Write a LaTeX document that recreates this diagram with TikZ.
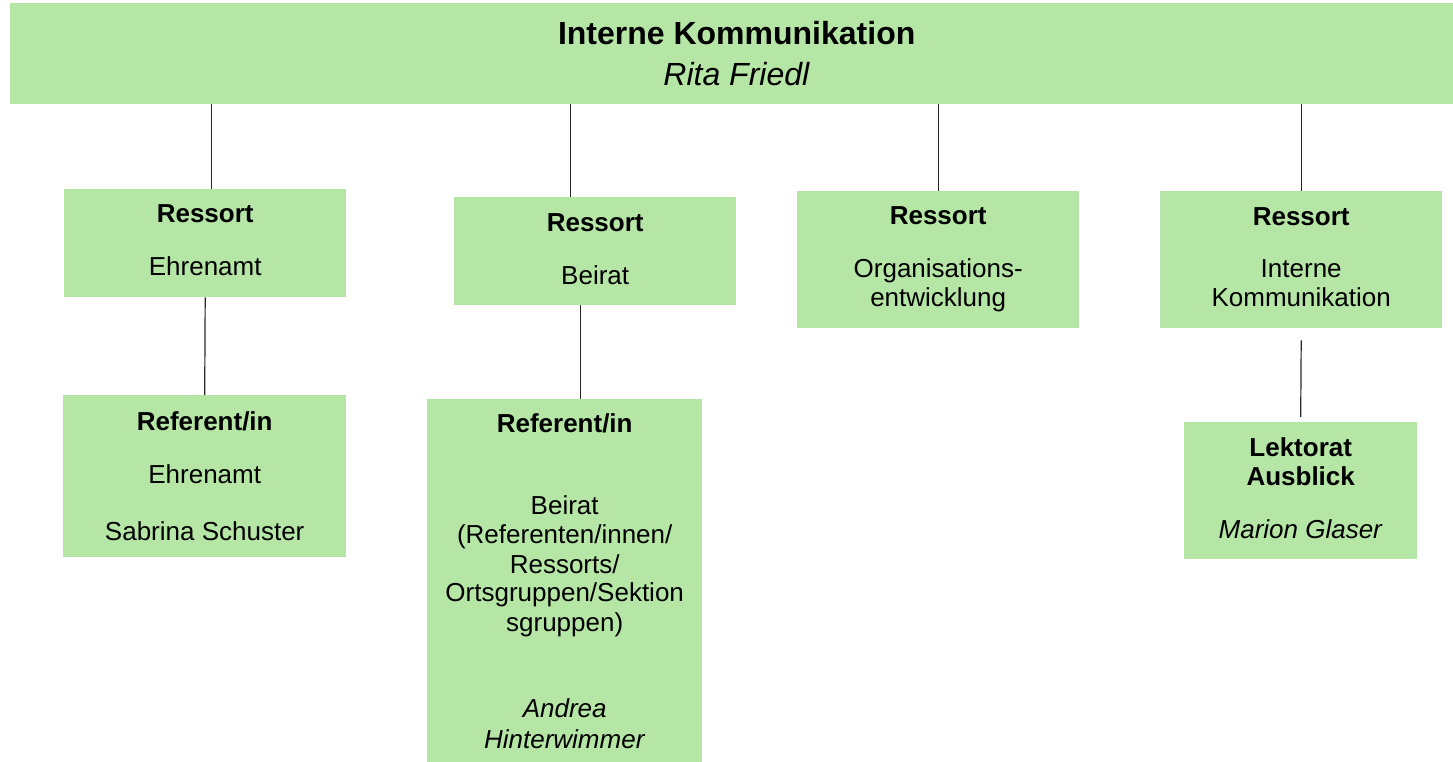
\documentclass[tikz,border=0pt]{standalone}
\usepackage{fontspec}
\setmainfont{Liberation Sans}
\definecolor{boxgreen}{RGB}{181,230,165}
\begin{document}
\begin{tikzpicture}[x=1pt,y=1pt,
  box/.style={fill=boxgreen, draw=none, inner sep=0pt, anchor=north west, align=center, font=\fontsize{26}{29}\selectfont},
  conn/.style={draw=black!85, line width=1.2pt}]
\useasboundingbox (0,0) rectangle (1453,-762);
\node[box, minimum width=1443, minimum height=101, font=\fontsize{32}{41}\selectfont] (top) at (10,-3) {\hspace*{10pt}\textbf{Interne Kommunikation}\\\hspace*{10pt}\textit{Rita Friedl}};
\node[box, minimum width=282, minimum height=108, text depth=6pt] (b1) at (64,-189) {\textbf{Ressort}\\[24pt]Ehrenamt};
\node[box, minimum width=283, minimum height=162] (b1b) at (63,-395) {\textbf{Referent/in}\\[24pt]Ehrenamt\\[28pt]Sabrina Schuster};
\node[box, minimum width=282, minimum height=108, text depth=4pt] (b2) at (454,-197) {\textbf{Ressort}\\[24pt]Beirat};
\node[box, minimum width=275, minimum height=363] (b2b) at (427,-399) {\textbf{Referent/in}\\[54pt]Beirat\\(Referenten/innen/\\Ressorts/\\Ortsgruppen/Sektion\\sgruppen)\\[57pt]\textit{Andrea}\\[2pt]\textit{Hinterwimmer}};
\node[box, minimum width=282, minimum height=137] (b3) at (797,-191) {\textbf{Ressort}\\[24pt]Organisations-\\entwicklung};
\node[box, minimum width=282, minimum height=137, text depth=6pt] (b4) at (1160,-191) {\textbf{Ressort}\\[23pt]Interne\\Kommunikation};
\node[box, minimum width=233, minimum height=137, text depth=6pt] (b4b) at (1184,-422) {\textbf{Lektorat}\\\textbf{Ausblick}\\[24pt]\textit{Marion Glaser}};
\draw[conn] ([xshift=6pt]b1.north) -- ([xshift=6pt]b1.north |- top.south);
\draw[conn] (b1.south) -- (b1b.north);
\draw[conn] ([xshift=-25pt]b2.north) -- ([xshift=-25pt]b2.north |- top.south);
\draw[conn] ([xshift=-15pt]b2.south) -- ([xshift=-15pt]b2.south |- b2b.north);
\draw[conn] (b3.north) -- (b3.north |- top.south);
\draw[conn] (b4.north) -- (b4.north |- top.south);
\draw[conn] ([yshift=-12pt]b4.south) -- ([yshift=5pt]b4b.north);
\end{tikzpicture}
\end{document}
